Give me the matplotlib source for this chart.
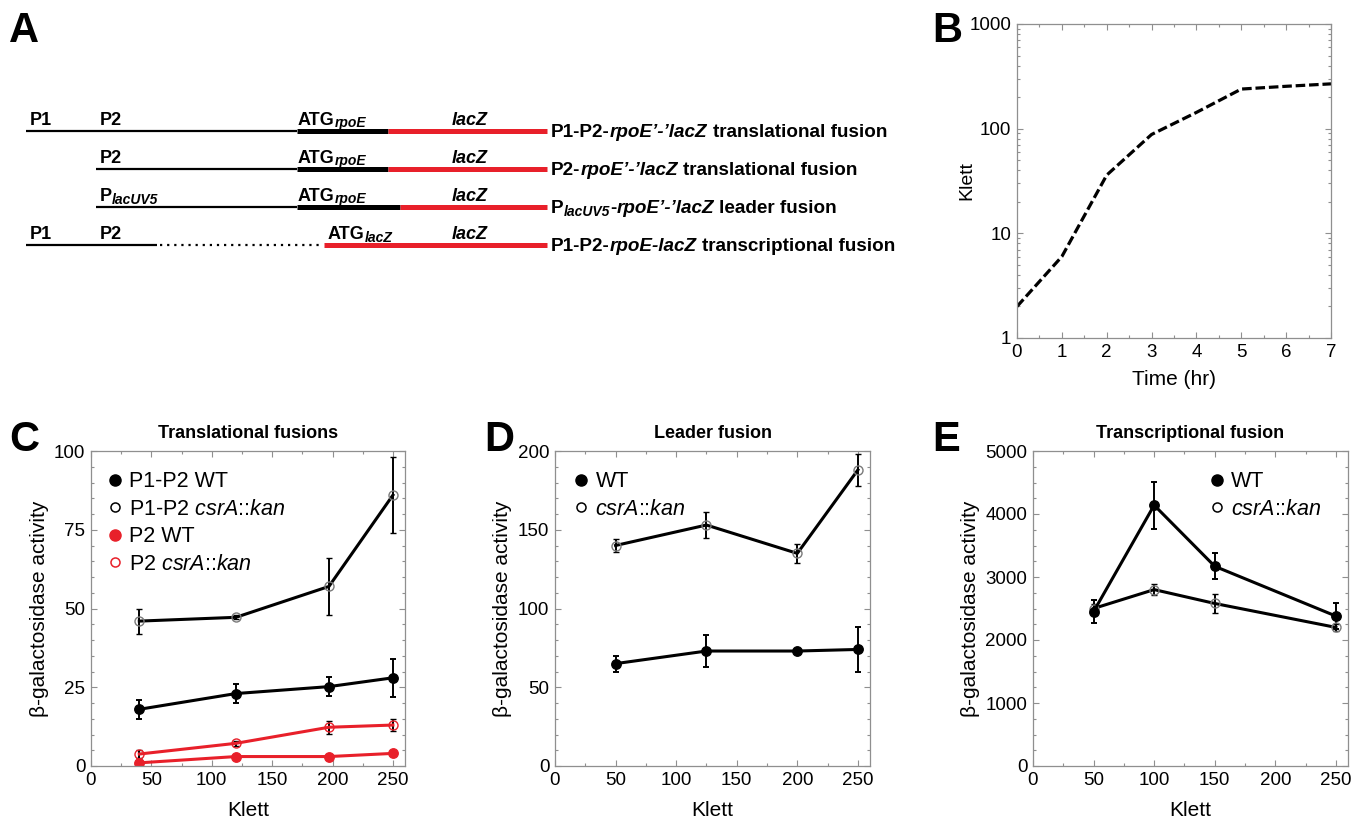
import matplotlib
matplotlib.use("Agg")
import matplotlib.pyplot as plt
from matplotlib.lines import Line2D
from matplotlib.ticker import MultipleLocator, NullFormatter, LogLocator, FixedLocator

plt.rcParams['font.family'] = 'Liberation Sans'
plt.rcParams['mathtext.fontset'] = 'custom'
plt.rcParams['mathtext.rm'] = 'Liberation Sans'
plt.rcParams['mathtext.it'] = 'Liberation Sans:italic'
plt.rcParams['mathtext.bf'] = 'Liberation Sans:bold'

RED = '#e8202a'
GRAY = '#8f8f8f'
OPEN = '#7a7a7a'

# B: growth curve
time_hr = [0, 1, 2, 3, 4, 5, 6, 7]
klett_growth = [2.0, 6.0, 36, 88, 143, 239, 254, 268]

# C: translational fusions
c_klett = [40, 120, 197, 250]
c_p1p2_wt = [18, 23, 25.2, 28]
c_p1p2_wt_err = [3, 3, 3, 6]
c_p1p2_csr = [46, 47.2, 57, 86]
c_p1p2_csr_err = [4, 0.6, 9, 12]
c_p2_wt = [1.0, 3.0, 3.0, 4.0]
c_p2_wt_err = [0.3, 0.3, 0.3, 0.3]
c_p2_csr = [3.8, 7.2, 12.3, 13]
c_p2_csr_err = [1.2, 0.7, 2, 2]

# D: leader fusion
d_klett = [50, 125, 200, 250]
d_wt = [65, 73, 73, 74]
d_wt_err = [5, 10, 1, 14]
d_csr = [140, 153, 135, 188]
d_csr_err = [4, 8, 6, 10]

# E: transcriptional fusion
e_klett = [50, 100, 150, 250]
e_wt = [2450, 4140, 3170, 2380]
e_wt_err = [180, 375, 205, 200]
e_csr = [2500, 2800, 2580, 2200]
e_csr_err = [70, 85, 145, 60]

W, H = 1351, 819
fig = plt.figure(figsize=(W / 100, H / 100), dpi=100)

# overlay in pixel units for panel A and the panel letters
ax0 = fig.add_axes([0, 0, 1, 1])
ax0.set_xlim(0, W)
ax0.set_ylim(H, 0)
ax0.axis('off')
ax0.set_facecolor('none')

SPECS = {'b': dict(fontsize=13, fontweight='bold'),
         'bl': dict(fontsize=13.6, fontweight='bold'),
         'bi': dict(fontsize=13.6, fontweight='bold', fontstyle='italic'),
         'bi2': dict(fontsize=13, fontweight='bold', fontstyle='italic'),
         'sub': dict(fontsize=10, fontweight='bold', fontstyle='italic')}


def rich(x, y, parts):
    r = fig.canvas.get_renderer()
    for s, kind in parts:
        kw = SPECS[kind]
        if s.startswith(' '):
            x += 0.28 * kw['fontsize'] * 100 / 72
            s = s.lstrip()
        dy = 2.5 if kind == 'sub' else 0
        t = ax0.text(x, y + dy, s, va='baseline', ha='left', **kw)
        x += t.get_window_extent(r).width


# panel A schematic
a_y = [131, 169, 207, 245]
a_thin = [(26, 297), (96, 297), (96, 297), (26, 157)]
a_dots = [None, None, None, (160, 320)]
a_thick = [(297, 388), (297, 388), (297, 400), None]
a_red = [(388, 547), (388, 547), (400, 547), (324, 547)]
a_prom = [[(30, [('P1', 'b')]), (100, [('P2', 'b')])],
          [(100, [('P2', 'b')])],
          [(100, [('P', 'b'), ('lacUV5', 'sub')])],
          [(30, [('P1', 'b')]), (100, [('P2', 'b')])]]
a_atg = [(298, 'rpoE'), (298, 'rpoE'), (298, 'rpoE'), (328, 'lacZ')]
a_labels = [[('P1-P2-', 'bl'), ('rpoE’-’lacZ', 'bi'), (' translational fusion', 'bl')],
            [('P2-', 'bl'), ('rpoE’-’lacZ', 'bi'), (' translational fusion', 'bl')],
            [('P', 'bl'), ('lacUV5', 'sub'), ('-', 'bl'), ('rpoE’-’lacZ', 'bi'), (' leader fusion', 'bl')],
            [('P1-P2-', 'bl'), ('rpoE-lacZ', 'bi'), (' transcriptional fusion', 'bl')]]

for i, y in enumerate(a_y):
    ax0.plot(a_thin[i], [y, y], color='k', lw=1.6, solid_capstyle='butt')
    if a_dots[i]:
        ax0.plot(a_dots[i], [y, y], color='k', lw=1.6, ls=(0, (1, 2.2)))
    if a_thick[i]:
        ax0.plot(a_thick[i], [y, y], color='k', lw=3.6, solid_capstyle='butt')
    ax0.plot(a_red[i], [y, y], color=RED, lw=3.6, solid_capstyle='butt')
    for px, parts in a_prom[i]:
        rich(px, y - 6, parts)
    rich(a_atg[i][0], y - 6, [('ATG', 'b'), (a_atg[i][1], 'sub')])
    rich(452, y - 6, [('lacZ', 'bi2')])
    rich(551, y + 6, a_labels[i])

for letter, x, y in [('A', 9, 42), ('B', 932, 42), ('C', 9, 451), ('D', 484, 451), ('E', 932, 451)]:
    ax0.text(x, y, letter, fontsize=30, fontweight='bold', va='baseline', ha='left')


def panel(rect):
    l, t, r, b = rect
    return fig.add_axes([l / W, 1 - b / H, (r - l) / W, (b - t) / H])


def style(ax):
    ax.tick_params(which='both', direction='in', top=True, right=True,
                   color=GRAY, labelsize=13.5, pad=4)
    ax.tick_params(which='major', length=4, width=0.8)
    ax.tick_params(which='minor', length=2.5, width=0.8)
    for s in ax.spines.values():
        s.set_color(GRAY)
        s.set_linewidth(0.9)


# B
axB = panel((1017, 24, 1331, 338))
axB.plot(time_hr, klett_growth, color='k', lw=2.3, ls=(0, (3, 1.2)))
axB.set_yscale('log')
axB.set_xlim(0, 7)
axB.set_ylim(1, 1000)
axB.xaxis.set_major_locator(MultipleLocator(1))
axB.xaxis.set_minor_locator(MultipleLocator(0.5))
axB.yaxis.set_major_locator(FixedLocator([1, 10, 100, 1000]))
axB.set_yticklabels(['1', '10', '100', '1000'])
axB.yaxis.set_minor_locator(LogLocator(subs=range(2, 10)))
axB.yaxis.set_minor_formatter(NullFormatter())
style(axB)
axB.set_xlabel('Time (hr)', fontsize=15, labelpad=7)
axB.set_ylabel('Klett', fontsize=14, labelpad=-4)


def eb(ax, x, y, err, color, open_=False):
    if open_:
        mkw = dict(mfc='none', mec=(RED if color == RED else OPEN), mew=1.0, ms=6.5)
    else:
        mkw = dict(mfc=color, mec=color, ms=6.8)
    ax.errorbar(x, y, yerr=err, color=color, lw=2.2, marker='o', ecolor='k',
                elinewidth=1.4, capsize=2.5, capthick=1.4, **mkw)


def legend(ax, handles, labels, x):
    ax.legend(handles, labels, loc='upper left', bbox_to_anchor=(x, 0.935),
              frameon=False, fontsize=15.5, handlelength=0.7, handletextpad=0.3,
              labelspacing=0.3, borderpad=0, borderaxespad=0)


def h(color, open_=False):
    if open_:
        return Line2D([], [], ls='none', marker='o', mfc='none', mec=color, mew=1.1, ms=6.5)
    return Line2D([], [], ls='none', marker='o', color=color, ms=8)


KAN = '$\\mathit{csrA}$::$\\mathit{kan}$'

# C
axC = panel((91, 451, 405, 766))
eb(axC, c_klett, c_p1p2_csr, c_p1p2_csr_err, 'k', True)
eb(axC, c_klett, c_p1p2_wt, c_p1p2_wt_err, 'k')
eb(axC, c_klett, c_p2_csr, c_p2_csr_err, RED, True)
eb(axC, c_klett, c_p2_wt, c_p2_wt_err, RED)
axC.set_xlim(0, 260)
axC.set_ylim(0, 100)
axC.xaxis.set_major_locator(MultipleLocator(50))
axC.xaxis.set_minor_locator(MultipleLocator(25))
axC.yaxis.set_major_locator(MultipleLocator(25))
axC.yaxis.set_minor_locator(MultipleLocator(5))
style(axC)
axC.set_title('Translational fusions', fontsize=13, fontweight='bold', pad=9)
axC.set_xlabel('Klett', fontsize=15, labelpad=9)
axC.set_ylabel('β-galactosidase activity', fontsize=15, labelpad=4)
legend(axC, [h('k'), h('k', True), h(RED), h(RED, True)],
       ['P1-P2 WT', 'P1-P2 ' + KAN, 'P2 WT', 'P2 ' + KAN], 0.053)

# D
axD = panel((555, 451, 870, 766))
eb(axD, d_klett, d_csr, d_csr_err, 'k', True)
eb(axD, d_klett, d_wt, d_wt_err, 'k')
axD.set_xlim(0, 260)
axD.set_ylim(0, 200)
axD.xaxis.set_major_locator(MultipleLocator(50))
axD.xaxis.set_minor_locator(MultipleLocator(25))
axD.yaxis.set_major_locator(MultipleLocator(50))
axD.yaxis.set_minor_locator(MultipleLocator(10))
style(axD)
axD.set_title('Leader fusion', fontsize=13, fontweight='bold', pad=9)
axD.set_xlabel('Klett', fontsize=15, labelpad=9)
axD.set_ylabel('β-galactosidase activity', fontsize=15, labelpad=4)
legend(axD, [h('k'), h('k', True)], ['WT', KAN], 0.06)

# E
axE = panel((1033, 451, 1348, 766))
eb(axE, e_klett, e_csr, e_csr_err, 'k', True)
eb(axE, e_klett, e_wt, e_wt_err, 'k')
axE.set_xlim(0, 260)
axE.set_ylim(0, 5000)
axE.xaxis.set_major_locator(MultipleLocator(50))
axE.xaxis.set_minor_locator(MultipleLocator(25))
axE.yaxis.set_major_locator(MultipleLocator(1000))
axE.yaxis.set_minor_locator(MultipleLocator(250))
style(axE)
axE.set_title('Transcriptional fusion', fontsize=13, fontweight='bold', pad=9)
axE.set_xlabel('Klett', fontsize=15, labelpad=9)
axE.set_ylabel('β-galactosidase activity', fontsize=15, labelpad=4)
legend(axE, [h('k'), h('k', True)], ['WT', KAN], 0.561)

fig.savefig('out.png', dpi=100)
